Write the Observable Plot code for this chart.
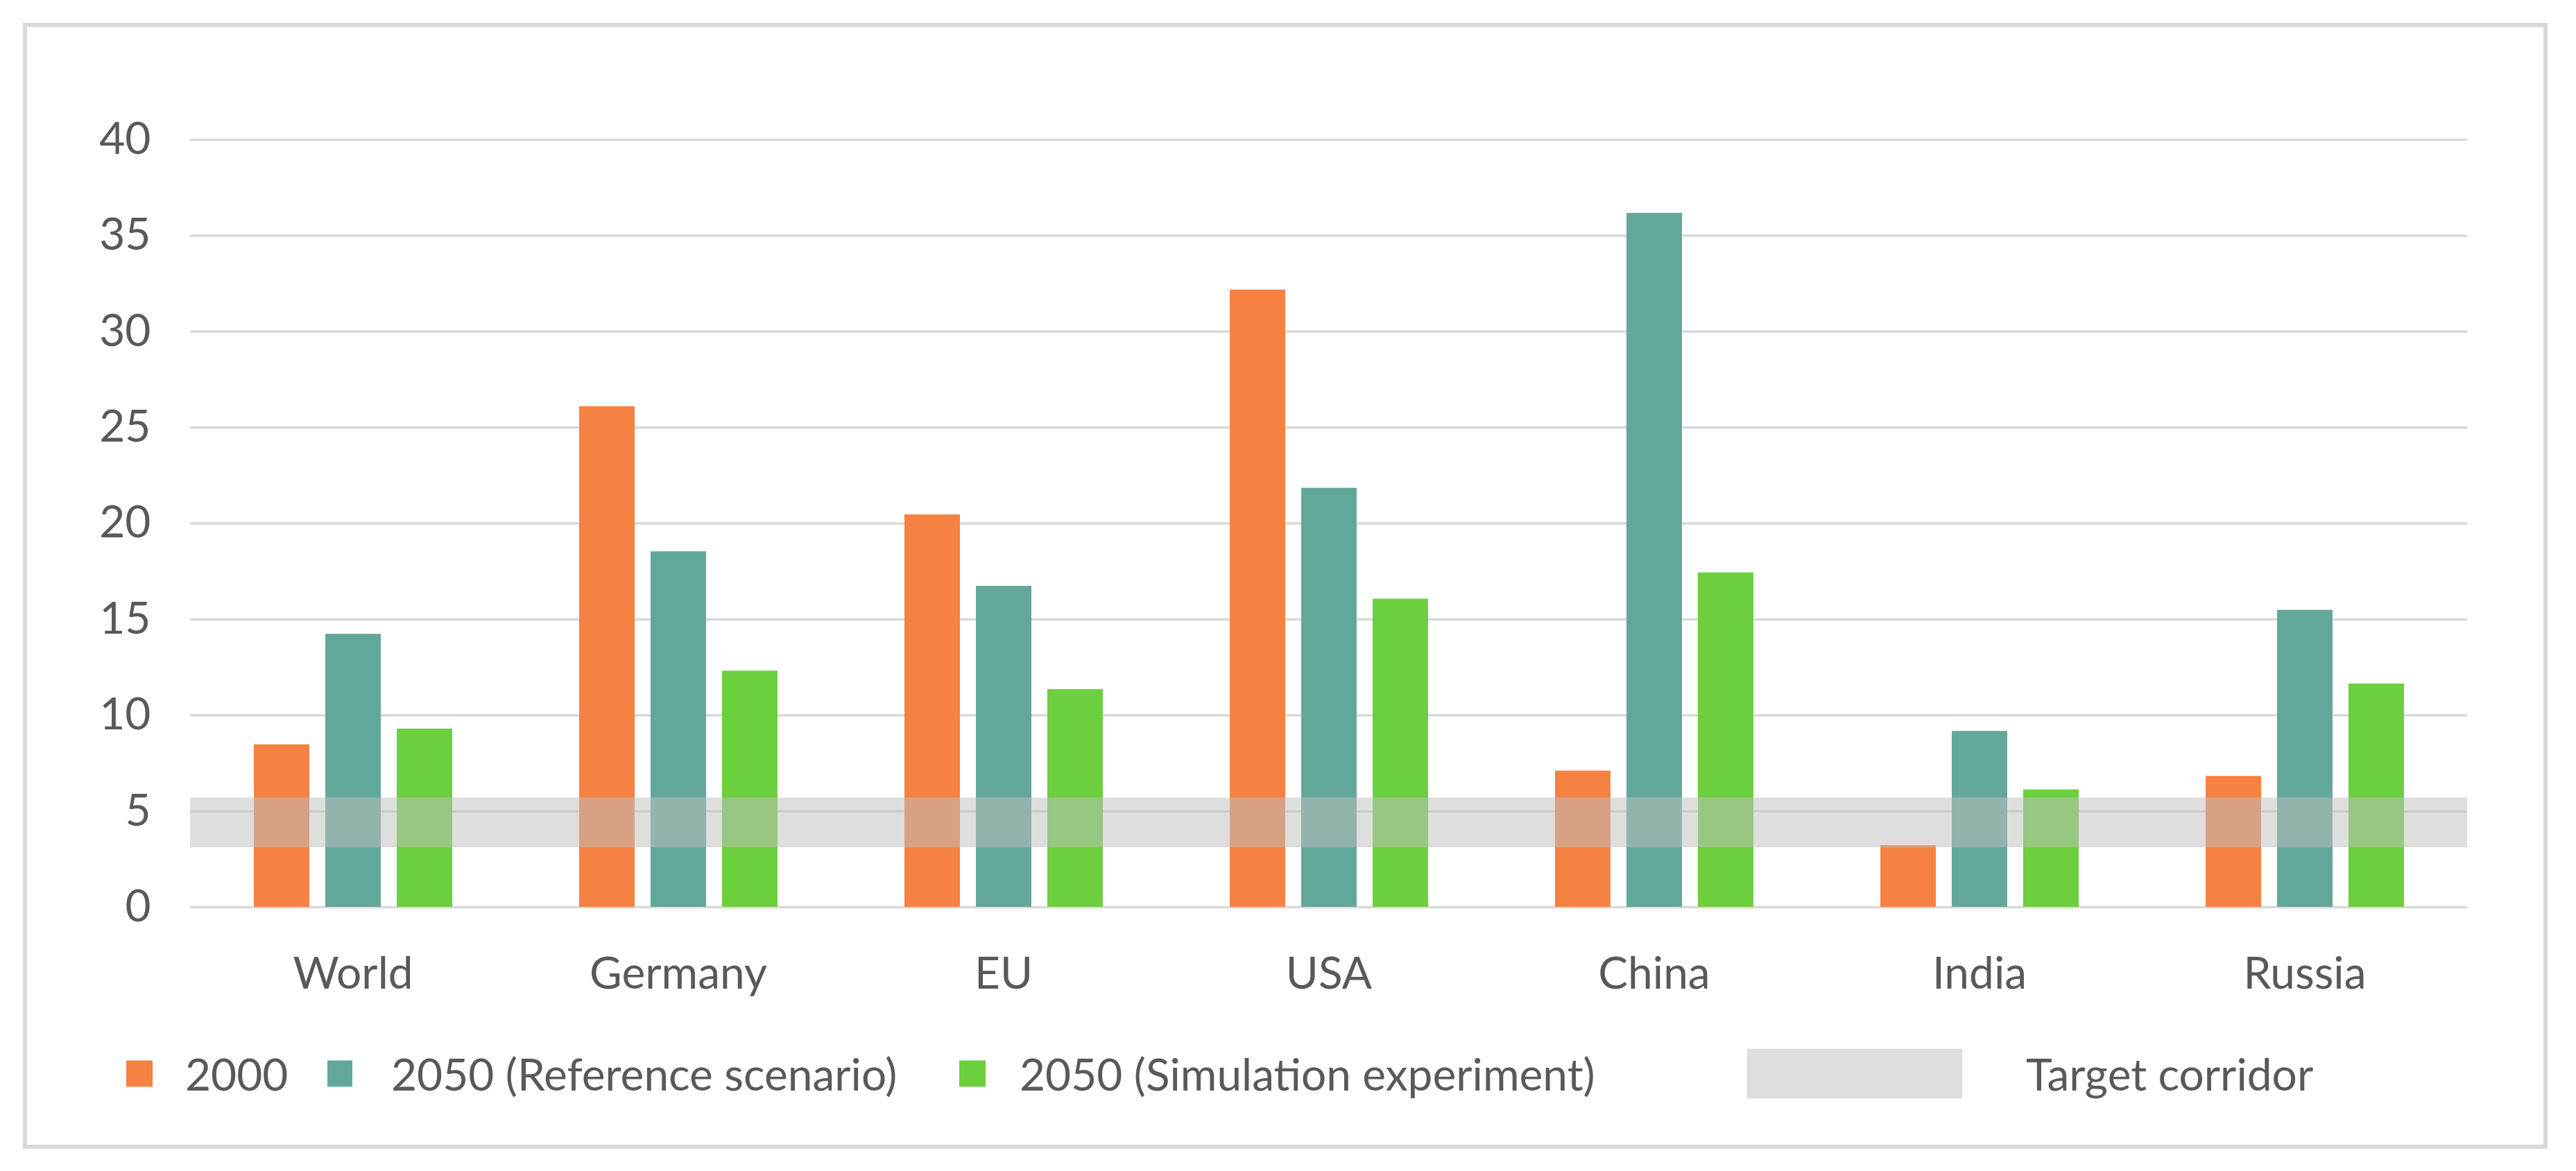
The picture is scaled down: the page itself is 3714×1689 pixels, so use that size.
<!DOCTYPE html>
<html>
<head>
<meta charset="utf-8">
<script src="https://cdn.jsdelivr.net/npm/d3@7"></script>
<script src="https://cdn.jsdelivr.net/npm/@observablehq/plot@0.6"></script>
<style>
  html, body { margin: 0; padding: 0; background: #fff; }
  body { width: 3714px; height: 1689px; position: relative; overflow: hidden; font-family: Lato, "Open Sans", sans-serif; color: #595959; }
  #frame { position: absolute; left: 33px; top: 33px; width: 3640px; height: 1624px; box-sizing: border-box; border: 6px solid #d9d9d9; }
  #chart { position: absolute; left: 0; top: 0; }
  .leg { position: absolute; top: 1548px; transform: translateY(-50%); display: flex; align-items: center; font-size: 64px; white-space: nowrap; }
  .sw { display: inline-block; }
</style>
</head>
<body>
<div id="frame"></div>
<div id="chart"></div>
<div id="legend"></div>
<script>
const categories = ["World", "Germany", "EU", "USA", "China", "India", "Russia"];
const series = ["2000", "2050 (Reference scenario)", "2050 (Simulation experiment)"];
const values2000 = [8.47, 26.09, 20.45, 32.17, 7.10, 3.22, 6.82];
const valuesRef  = [14.23, 18.53, 16.73, 21.84, 36.17, 9.17, 15.48];
const valuesSim  = [9.29, 12.31, 11.35, 16.06, 17.43, 6.12, 11.64];
const seriesColors = ["#f58142", "#62a89a", "#6bcf3e"];
const yTicks = [0, 5, 10, 15, 20, 25, 30, 35, 40];
const corridor = [{label: "Target corridor", lo: 3.1, hi: 5.7}];

const seriesValues = [values2000, valuesRef, valuesSim];
const data = categories.flatMap((c, i) => series.map((s, j) => ({category: c, series: s, value: seriesValues[j][i]})));

const plot = Plot.plot({
  width: 3714,
  height: 1460,
  marginLeft: 272,
  marginRight: 156,
  marginTop: 201,
  marginBottom: 152,
  style: {fontFamily: "Lato, 'Open Sans', sans-serif", fontSize: "64px", color: "#595959", background: "transparent", overflow: "visible"},
  fx: {domain: categories, padding: 0, label: null, tickSize: 0, tickPadding: 72},
  x: {domain: series, paddingInner: 0.227, paddingOuter: 0.881, axis: null},
  y: {domain: [0, 40], ticks: yTicks, label: null, tickSize: 0, tickPadding: 57},
  color: {domain: series, range: seriesColors},
  marks: [
    Plot.ruleY(yTicks, {stroke: "#d9d9d9", strokeWidth: 3.5}),
    Plot.barY(data, {fx: "category", x: "series", y: "value", fill: "series"}),
    Plot.rect(corridor, {y1: "lo", y2: "hi", fill: "#bfbfbf", fillOpacity: 0.52})
  ]
});
document.getElementById("chart").appendChild(plot);

// legend
const legend = document.getElementById("legend");
const legItems = [
  {label: series[0], color: seriesColors[0], left: 182, w: 38, h: 38, gap: 47, opacity: 1},
  {label: series[1], color: seriesColors[1], left: 472, w: 36, h: 38, gap: 56, opacity: 1},
  {label: series[2], color: seriesColors[2], left: 1383, w: 38, h: 38, gap: 49, opacity: 1},
  {label: corridor[0].label, color: "#bfbfbf", left: 2519, w: 310, h: 72, gap: 92, opacity: 0.52}
];
for (const it of legItems) {
  const d = document.createElement("div");
  d.className = "leg";
  d.style.left = it.left + "px";
  const sw = document.createElement("span");
  sw.className = "sw";
  sw.style.width = it.w + "px";
  sw.style.height = it.h + "px";
  sw.style.background = it.color;
  sw.style.opacity = it.opacity;
  sw.style.marginRight = it.gap + "px";
  const t = document.createElement("span");
  t.textContent = it.label;
  d.appendChild(sw);
  d.appendChild(t);
  legend.appendChild(d);
}
</script>
</body>
</html>
